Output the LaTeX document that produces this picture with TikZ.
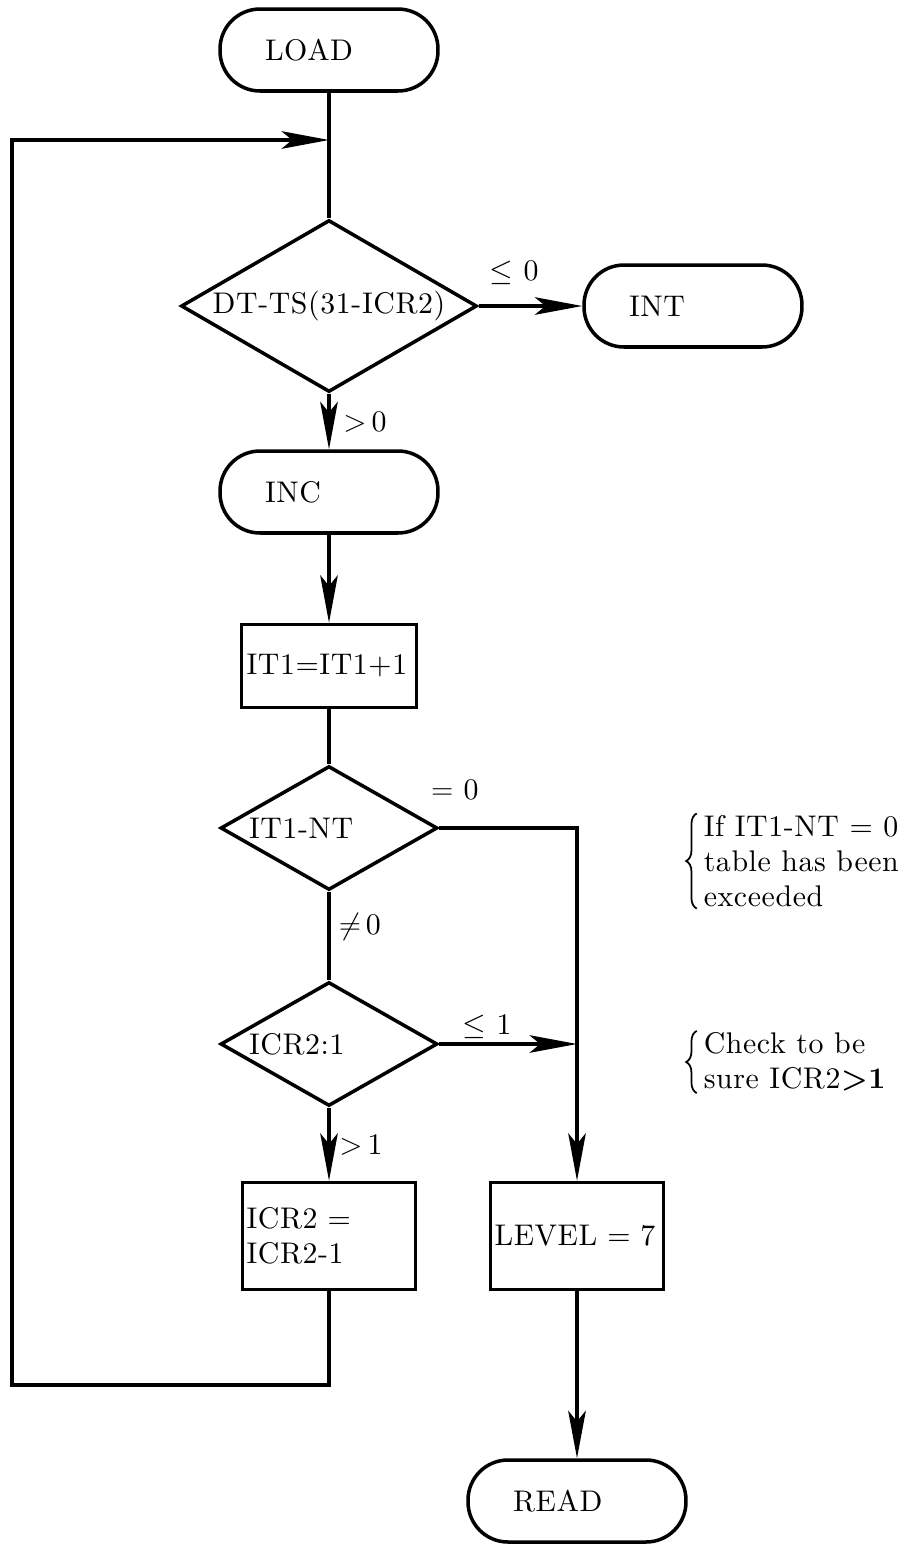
\documentclass[tikz,border=0pt]{standalone}
\usepackage{fontspec}
\setmainfont{lmroman10-regular.otf}[LetterSpace=2, BoldFont=lmroman10-bold.otf]
\usetikzlibrary{shapes.geometric,arrows.meta,decorations.pathreplacing}

\begin{document}
\begin{tikzpicture}[
  x=0.02cm, y=-0.02cm, line width=2pt,
  font=\fontsize{17}{20}\selectfont,
  terminal/.style={draw, rounded corners=0.8cm, minimum height=1.64cm, text width=2.56cm, inner xsep=0.9cm, align=left},
  decision/.style={draw, diamond, aspect=1.75, inner sep=0pt, minimum width=4.34cm, minimum height=2.48cm, text width=3.2cm, align=left},
  procbox/.style={draw, minimum height=1.66cm, text width=3.3cm, inner xsep=0.08cm, align=left},
  cond/.style={inner sep=1pt},
  note/.style={inner sep=0pt, anchor=west, align=left},
  brace/.style={decorate, decoration={brace, amplitude=6pt}, line width=1pt},
  arrow/.style={-{Stealth[length=27pt, width=10pt, inset=6pt]}}
]
\useasboundingbox (0,0) rectangle (923,1553);

% Terminals
\node[terminal] (load) at (329,50) {LOAD};
\node[terminal] (int) at (693,306) {INT};
\node[terminal] (inc) at (329,492) {INC};
\node[terminal] (read) at (577,1501) {READ};

% Decisions
\node[decision, minimum width=5.92cm, minimum height=3.44cm, aspect=1.72, text width=4.8cm, align=center] (test) at (329,306) {DT-TS(31-ICR2)};
\node[decision] (limit) at (329,828) {IT1-NT};
\node[decision] (check) at (329,1044) {ICR2:1};

% Boxes
\node[procbox, minimum width=3.5cm] (incr) at (329,666) {IT1=IT1+1};
\node[procbox, minimum height=2.14cm] (decr) at (329,1236) {ICR2 =\\ICR2-1};
\node[procbox, minimum height=2.14cm] (level) at (577,1236) {LEVEL = 7};

% Junctions
\coordinate (join) at (329,140);
\coordinate (corner) at (12,1385);
\coordinate (merge) at (level.north |- check.east);

% Branch labels
\node[cond] (le0) at (514,273) {$\leq$\ 0};
\node[cond] (gt0) at (365,422) {$>$\,0};
\node[cond] (eq0) at (455,790) {$=$\ 0};
\node[cond] (ne0) at (360,927) {$\neq$\,0};
\node[cond] (le1) at (487,1027) {$\leq$\ 1};
\node[cond] (gt1) at (361,1145) {$>$\,1};

% Side notes
\node[note] (note1) at (702,861) {If IT1-NT = 0\\table has been\\exceeded};
\node[note] (note2) at (702,1062) {Check to be\\sure ICR2\textbf{>1}};
\draw[brace] ([xshift=-3pt]note1.south west) -- ([xshift=-3pt]note1.north west);
\draw[brace] ([xshift=-3pt]note2.south west) -- ([xshift=-3pt]note2.north west);

% Flow
\draw (load) -- (test);
\draw[arrow] (test) -- (int);
\draw[arrow] (test) -- (inc);
\draw[arrow] (inc) -- (incr);
\draw (incr) -- (limit);
\draw[arrow] (limit.east) -| (level.north);
\draw (limit) -- (check);
\draw[arrow] (check.east) -- (merge);
\draw[arrow] (check) -- (decr);
\draw[arrow] (level) -- (read);
\draw[arrow] (decr.south) |- (corner) |- (join);

\end{tikzpicture}
\end{document}
